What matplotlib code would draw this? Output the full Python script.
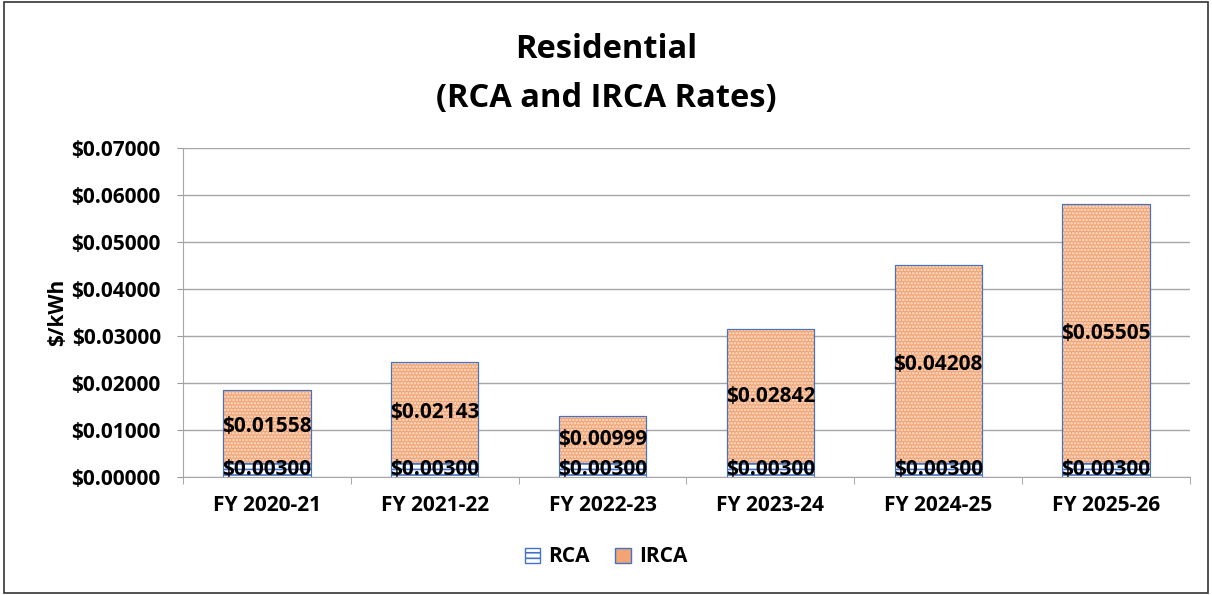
import numpy as np
import matplotlib.pyplot as plt
from matplotlib.patches import Patch, Rectangle

# data
years = ['FY 2020-21', 'FY 2021-22', 'FY 2022-23', 'FY 2023-24', 'FY 2024-25', 'FY 2025-26']
rca = [0.00300, 0.00300, 0.00300, 0.00300, 0.00300, 0.00300]
irca = [0.01558, 0.02143, 0.00999, 0.02842, 0.04208, 0.05505]

plt.rcParams['font.family'] = ['Open Sans', 'DejaVu Sans']
plt.rcParams['hatch.linewidth'] = 1.2

fig = plt.figure(figsize=(12.12, 5.95), dpi=100)
ax = fig.add_axes([183 / 1212, 1 - 477 / 595, 1007 / 1212, 329 / 595])

x = np.arange(len(years))
w = 0.52
blue = '#4472C4'
orange = '#F2A474'

ax.bar(x, rca, w, color='white', edgecolor=blue, linewidth=0.8, hatch='---', zorder=3)
ax.bar(x, irca, w, bottom=rca, color=orange, edgecolor=blue, linewidth=0.8, zorder=3)
# white dot texture over the orange fill
ax.bar(x, irca, w, bottom=rca, fill=False, edgecolor='#FBE3D3', linewidth=0, hatch='.....', zorder=4)
ax.bar(x, irca, w, bottom=rca, fill=False, edgecolor=blue, linewidth=0.8, zorder=5)

for i in range(len(years)):
    ax.text(x[i], rca[i] / 2, '${:.5f}'.format(rca[i]), ha='center', va='center',
            fontsize=15, fontweight='bold', zorder=6)
    ax.text(x[i], rca[i] + irca[i] / 2, '${:.5f}'.format(irca[i]), ha='center', va='center',
            fontsize=15, fontweight='bold', zorder=6)

ax.set_xlim(-0.5, len(years) - 0.5)
ax.set_ylim(0, 0.07)
ax.set_yticks(np.arange(0, 0.0701, 0.01))
ax.set_yticklabels(['${:.5f}'.format(v) for v in np.arange(0, 0.0701, 0.01)])
ax.set_xticks(x)
ax.set_xticklabels(years)
ax.set_xticks(np.arange(-0.5, len(years)), minor=True)
ax.tick_params(axis='x', which='major', length=0, pad=13)
ax.tick_params(axis='x', which='minor', length=5, color='#999999')
ax.tick_params(axis='y', length=4, color='#999999', pad=12)
for lab in ax.get_xticklabels() + ax.get_yticklabels():
    lab.set_fontsize(15)
    lab.set_fontweight('bold')

ax.grid(axis='y', color='#A6A6A6', linewidth=1, zorder=0)
for s in ['top', 'right']:
    ax.spines[s].set_visible(False)
ax.spines['left'].set_color('#A6A6A6')
ax.spines['bottom'].set_color('#A6A6A6')

ax.set_ylabel('$/kWh', fontsize=15, fontweight='bold', labelpad=2)

fig.text(0.5, 1 - 50 / 595, 'Residential', ha='center', va='center', fontsize=23.5, fontweight='bold')
fig.text(0.5, 1 - 98 / 595, '(RCA and IRCA Rates)', ha='center', va='center', fontsize=23.5, fontweight='bold')

handles = [Patch(facecolor='white', edgecolor=blue, hatch='---', label='RCA'),
           Patch(facecolor=orange, edgecolor=blue, label='IRCA')]
fig.legend(handles=handles, loc='center', bbox_to_anchor=(0.5, 1 - 557 / 595), ncol=2, frameon=False,
           prop={'size': 15, 'weight': 'bold'}, handlelength=0.75, handleheight=0.75, handletextpad=0.4,
           columnspacing=1.2)

fig.patches.append(Rectangle((0.003, 0.003), 0.994, 0.994, transform=fig.transFigure,
                             fill=False, edgecolor='#333333', linewidth=1.2))

fig.savefig('out.png', dpi=100)
